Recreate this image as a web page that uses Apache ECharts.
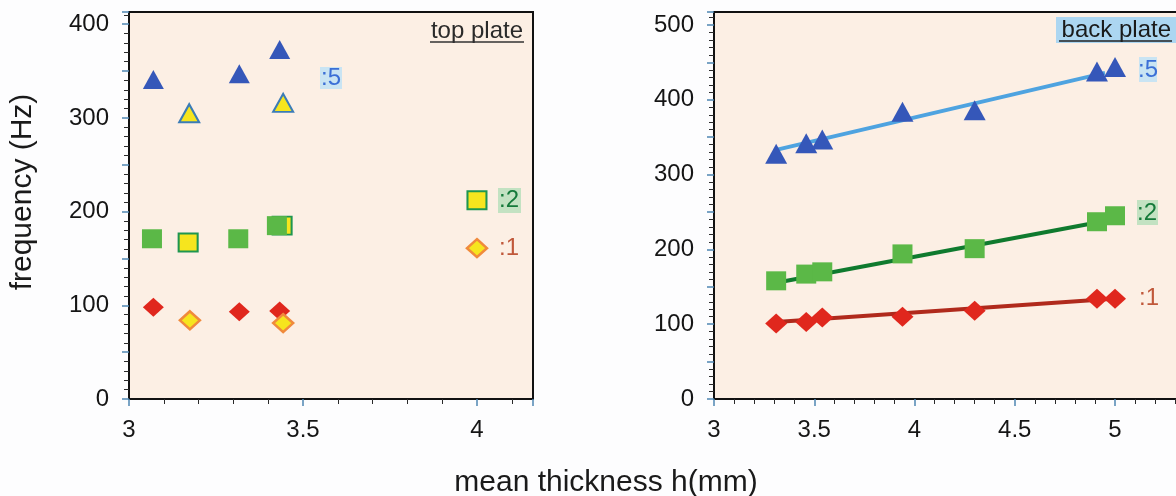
<!DOCTYPE html>
<html>
<head>
<meta charset="utf-8">
<script src="https://cdn.jsdelivr.net/npm/echarts@6/dist/echarts.min.js"></script>
<style>
html,body{margin:0;padding:0;background:#fdfdfe;}
#c{width:1176px;height:496px;}
</style>
</head>
<body>
<div id="c"></div>
<script>
// ---- data ----
// top plate: [thickness, frequency]
const topMode5Filled = [[3.07, 341], [3.317, 347], [3.433, 373]];
const topMode5Open   = [[3.173, 305], [3.443, 316]];
const topMode2Open   = [[3.170, 167], [3.44, 185], [4.0, 212]];
const topMode2Filled = [[3.066, 171], [3.314, 171], [3.425, 185]];
const topMode1Filled = [[3.07, 98], [3.317, 93], [3.433, 94]];
const topMode1Open   = [[3.175, 84], [3.443, 81], [4.0, 161]];

// back plate
const backThickness = [3.31, 3.46, 3.54, 3.94, 4.30, 4.91, 5.0];
const backMode5 = [328, 342, 347, 384, 386, 438, 444];
const backMode2 = [158, 167, 170, 194, 201, 237, 245];
const backMode1 = [101, 103, 109, 110, 118, 134, 134];
const backFit5 = [[3.31, 333], [4.95, 436]];
const backFit2 = [[3.31, 155.5], [4.95, 238]];
const backFit1 = [[3.31, 103], [4.99, 134]];

// tick labels
const xTicksTop  = [3, 3.5, 4];
const xTicksBack = [3, 3.5, 4, 4.5, 5];
const yTicksTop  = [0, 100, 200, 300, 400];
const yTicksBack = [0, 100, 200, 300, 400, 500];

const FONT = '"Liberation Sans", Arial, sans-serif';
const pair = (xs, ys) => xs.map((x, i) => [x, ys[i]]);
const near = (arr, v) => arr.some(t => Math.abs(t - v) < 1e-6);

function mainAxis(grid, min, max, interval, ticks, isY) {
  return {
    type: 'value', gridIndex: grid, min: min, max: max, interval: interval,
    position: isY ? 'left' : 'bottom', z: 10,
    axisLine: { show: true, onZero: false, lineStyle: { color: '#111', width: 2 } },
    axisTick: { show: true, inside: false, length: 7, lineStyle: { color: '#4f86b3', width: 1.5 } },
    minorTick: { show: true, splitNumber: 5, length: 5, lineStyle: { color: '#2a2a2a', width: 1 } },
    minorSplitLine: { show: false },
    axisLabel: {
      show: true, fontSize: 24, fontFamily: FONT, color: '#151515',
      margin: isY ? 20 : 19, showMaxLabel: false,
      formatter: v => near(ticks, v) ? String(v) : ''
    },
    splitLine: { show: false }
  };
}

const BLUE = '#3557b9', GREEN = '#5bb847', RED = '#e0271d', YEL = '#f6e51e';

function sc(name, xi, data, symbol, size, color, border, bw, z) {
  return {
    name: name, type: 'scatter', xAxisIndex: xi, yAxisIndex: xi, data: data,
    symbol: symbol, symbolSize: size, z: z,
    itemStyle: { color: color, borderColor: border || color, borderWidth: bw || 0, opacity: 1 }
  };
}
function ln(xi, data, color) {
  return {
    type: 'line', xAxisIndex: xi, yAxisIndex: xi, data: data, symbol: 'none', z: 2,
    lineStyle: { color: color, width: 4 }
  };
}

const plotGrid = r => Object.assign({ show: true, backgroundColor: '#fcefe4', borderColor: '#111', borderWidth: 2, outerBoundsMode: 'none', containLabel: false }, r);

const option = {
  backgroundColor: '#fdfdfe',
  animation: false,
  grid: [
    plotGrid({ left: 129, top: 12, width: 404, height: 387 }),
    plotGrid({ left: 714, top: 12, width: 470, height: 387 })
  ],
  xAxis: [
    mainAxis(0, 3, 4.161, 0.5, xTicksTop, false),
    mainAxis(1, 3, 5.344, 0.5, xTicksBack, false)
  ],
  yAxis: [
    mainAxis(0, 0, 413, 50, yTicksTop, true),
    mainAxis(1, 0, 517.4, 50, yTicksBack, true)
  ],
  series: [
    // top plate
    sc('t5f', 0, topMode5Filled, 'triangle', [21, 19], BLUE, null, 0, 3),
    sc('t5o', 0, topMode5Open, 'triangle', [20, 18], YEL, '#3b7cb6', 2, 3),
    sc('t2o', 0, topMode2Open, 'rect', [19, 18], YEL, '#1e9650', 2, 3),
    sc('t2f', 0, topMode2Filled, 'rect', [20, 19], GREEN, null, 0, 4),
    sc('t1f', 0, topMode1Filled, 'diamond', [21, 19], RED, null, 0, 3),
    sc('t1o', 0, topMode1Open, 'diamond', [20, 18], YEL, '#f08a3c', 2.5, 4),
    // back plate
    ln(1, backFit5, '#4ea3e0'),
    ln(1, backFit2, '#0f7a2e'),
    ln(1, backFit1, '#b02a1c'),
    sc('b5', 1, pair(backThickness, backMode5), 'triangle', [22, 20], BLUE, null, 0, 3),
    sc('b2', 1, pair(backThickness, backMode2), 'rect', [20, 19], GREEN, null, 0, 3),
    sc('b1', 1, pair(backThickness, backMode1), 'diamond', [22, 20], RED, null, 0, 3)
  ],
  graphic: [
    // axis titles
    { type: 'text', x: 23, y: 192, rotation: Math.PI / 2,
      style: { text: 'frequency (Hz)', font: '30px ' + FONT, fill: '#1a1a1a', align: 'center', verticalAlign: 'middle' } },
    { type: 'text', x: 606, y: 483,
      style: { text: 'mean thickness h(mm)', font: '30px ' + FONT, fill: '#1a1a1a', align: 'center', verticalAlign: 'middle' } },
    // top plate label
    { type: 'text', x: 523, y: 31,
      style: { text: 'top plate', font: '24px ' + FONT, fill: '#2a2a2a', align: 'right', verticalAlign: 'middle' } },
    { type: 'line', shape: { x1: 430, y1: 42, x2: 524, y2: 42 }, style: { stroke: '#333', lineWidth: 1.5 } },
    // back plate label
    { type: 'rect', shape: { x: 1056, y: 17, width: 122, height: 26 }, style: { fill: '#acd6f1' } },
    { type: 'text', x: 1171, y: 30,
      style: { text: 'back plate', font: '24px ' + FONT, fill: '#1a1a1a', align: 'right', verticalAlign: 'middle' } },
    { type: 'line', shape: { x1: 1059, y1: 41, x2: 1172, y2: 41 }, style: { stroke: '#222', lineWidth: 1.5 } },
    // mode labels, top plate
    { type: 'rect', shape: { x: 320, y: 67, width: 22, height: 22 }, style: { fill: '#c9e4f3' } },
    { type: 'text', x: 331, y: 78, style: { text: ':5', font: '24px ' + FONT, fill: '#3b6fd6', align: 'center', verticalAlign: 'middle' } },
    { type: 'rect', shape: { x: 498, y: 188, width: 23, height: 25 }, style: { fill: '#c3e2c2' } },
    { type: 'text', x: 509, y: 200, style: { text: ':2', font: '24px ' + FONT, fill: '#157a3a', align: 'center', verticalAlign: 'middle' } },
    { type: 'text', x: 509, y: 248, style: { text: ':1', font: '24px ' + FONT, fill: '#c0583a', align: 'center', verticalAlign: 'middle' } },
    // mode labels, back plate
    { type: 'rect', shape: { x: 1139, y: 57, width: 18, height: 25 }, style: { fill: '#c9e4f3' } },
    { type: 'text', x: 1148, y: 70, style: { text: ':5', font: '24px ' + FONT, fill: '#3b6fd6', align: 'center', verticalAlign: 'middle' } },
    { type: 'rect', shape: { x: 1137, y: 200, width: 21, height: 25 }, style: { fill: '#c3e2c2' } },
    { type: 'text', x: 1147, y: 213, style: { text: ':2', font: '24px ' + FONT, fill: '#157a3a', align: 'center', verticalAlign: 'middle' } },
    { type: 'text', x: 1149, y: 298, style: { text: ':1', font: '24px ' + FONT, fill: '#c0583a', align: 'center', verticalAlign: 'middle' } }
  ]
};

const chart = echarts.init(document.getElementById('c'), null, { renderer: 'canvas' });
chart.setOption(option);
</script>
</body>
</html>
